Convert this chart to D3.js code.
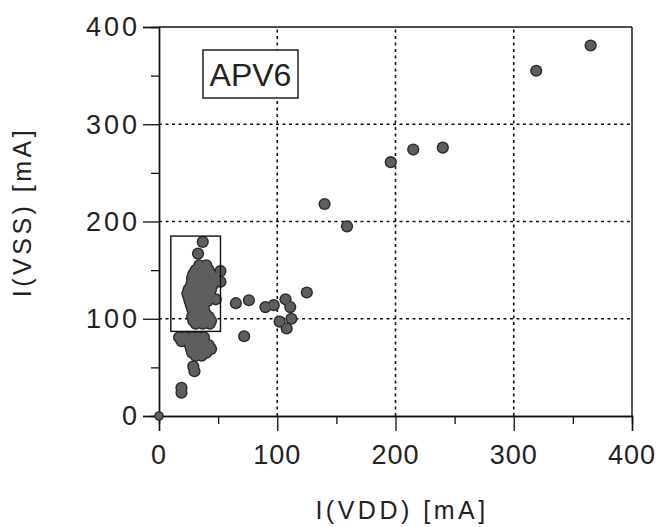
<!DOCTYPE html>
<html>
<head>
<meta charset="utf-8">
<script src="https://cdn.jsdelivr.net/npm/d3@7"></script>
<style>
  html, body { margin: 0; padding: 0; background: #fff; }
  svg { display: block; }
  text { font-family: "Liberation Sans", Arial, sans-serif; fill: #222; }
</style>
</head>
<body>
<svg id="chart" width="662" height="527"></svg>
<script>
// ---- data ----
const xTicks = [0, 100, 200, 300, 400];
const yTicks = [0, 100, 200, 300, 400];
const minorTicks = [50, 150, 250, 350];
const gridValues = [100, 200, 300];
const xLabel = "I(VDD) [mA]";
const yLabel = "I(VSS) [mA]";
const tagLabel = "APV6";
// highlighted cluster rectangle: [x0, x1, y0, y1] in mA
const clusterBox = [10, 52, 87, 185];

// I(VDD) values
const vdd = [
  0, 365, 319, 140, 159, 196, 215, 240,
  65, 76, 90, 97, 107, 111, 125, 102, 112, 108, 72,
  37, 33, 52, 52, 48,
  34, 40,
  31, 36, 42,
  29, 34, 39, 44,
  28, 33, 38, 43, 47,
  28, 32, 37, 42, 46,
  27, 31, 36, 41, 45,
  25, 30, 35, 40, 44,
  24, 29, 34, 39, 43,
  25, 30, 35, 40,
  26, 31, 36, 41,
  27, 32, 37,
  28, 33, 38,
  29, 34, 39,
  28, 33, 38, 42,
  29, 34, 39, 44,
  31, 37, 43,
  17, 22, 28, 33, 38,
  19, 25, 31, 36,
  26, 31, 37, 42,
  27, 33, 39, 44,
  28, 34, 40,
  31, 36,
  29, 30,
  19, 19
];
// I(VSS) values
const vss = [
  0, 381, 355, 218, 195, 261, 274, 276,
  116, 119, 112, 114, 120, 112, 127, 97, 100, 90, 82,
  179, 167, 149, 138, 120,
  155, 155,
  150, 150, 150,
  146, 146, 146, 146,
  142, 142, 142, 142, 142,
  138, 138, 138, 138, 138,
  134, 134, 134, 134, 134,
  130, 130, 130, 130, 130,
  126, 126, 126, 126, 126,
  122, 122, 122, 122,
  118, 118, 118, 118,
  114, 114, 114,
  110, 110, 110,
  106, 106, 106,
  102, 102, 102, 102,
  98, 98, 98, 98,
  95, 95, 95,
  81, 81, 81, 81, 81,
  77, 77, 77, 77,
  73, 73, 73, 73,
  69, 69, 69, 69,
  65, 65, 65,
  62, 62,
  51, 46,
  29, 24
];

// ---- layout ----
const svg = d3.select("#chart");
const W = 662, H = 527;
const m = { left: 159, top: 27, right: 662 - 632, bottom: 527 - 416 };
const pw = W - m.left - m.right, ph = H - m.top - m.bottom;

svg.append("rect").attr("width", W).attr("height", H).attr("fill", "#fff");

const x = d3.scaleLinear().domain([0, 400]).range([m.left, m.left + pw]);
const y = d3.scaleLinear().domain([0, 400]).range([m.top + ph, m.top]);

// grid (dotted)
const grid = svg.append("g").attr("stroke", "#111").attr("stroke-width", 1.6)
  .attr("stroke-dasharray", "3,3.5");
grid.selectAll("line.gx").data(gridValues).join("line")
  .attr("x1", d => x(d)).attr("x2", d => x(d))
  .attr("y1", y(0)).attr("y2", y(400));
grid.selectAll("line.gy").data(gridValues).join("line")
  .attr("y1", d => y(d)).attr("y2", d => y(d))
  .attr("x1", x(0)).attr("x2", x(400));

// frame (top and right borders)
svg.append("line").attr("x1", x(0)).attr("x2", x(400)).attr("y1", y(400)).attr("y2", y(400))
  .attr("stroke", "#111").attr("stroke-width", 1.4);
svg.append("line").attr("x1", x(400)).attr("x2", x(400)).attr("y1", y(0)).attr("y2", y(400))
  .attr("stroke", "#111").attr("stroke-width", 1.4);

// axes
const xAxis = svg.append("g").attr("transform", `translate(0,${y(0)})`)
  .call(d3.axisBottom(x).tickValues(xTicks).tickSize(15).tickFormat(""));
const xMinor = svg.append("g").attr("transform", `translate(0,${y(0)})`)
  .call(d3.axisBottom(x).tickValues(minorTicks).tickSize(8).tickFormat(""));
const yAxis = svg.append("g").attr("transform", `translate(${x(0)},0)`)
  .call(d3.axisLeft(y).tickValues(yTicks).tickSize(16).tickFormat(""));
const yMinor = svg.append("g").attr("transform", `translate(${x(0)},0)`)
  .call(d3.axisLeft(y).tickValues(minorTicks).tickSize(8).tickFormat(""));
[xAxis, xMinor, yAxis, yMinor].forEach(g => {
  g.select(".domain").attr("stroke", "#111").attr("stroke-width", 1.4);
  g.selectAll(".tick line").attr("stroke", "#111").attr("stroke-width", 1.3);
});

// tick labels
svg.append("g").selectAll("text").data(xTicks).join("text")
  .attr("x", d => x(d)).attr("y", 455).attr("dy", "0.35em")
  .attr("text-anchor", "middle")
  .attr("font-size", 27).style("letter-spacing", "1px")
  .text(d => d);
svg.append("g").selectAll("text").data(yTicks).join("text")
  .attr("x", 140).attr("y", d => y(d)).attr("dy", "0.35em")
  .attr("text-anchor", "end")
  .attr("font-size", 27).style("letter-spacing", "3px")
  .text(d => d);

// axis titles
svg.append("text").attr("x", 402).attr("y", 510).attr("dy", "0.35em")
  .attr("text-anchor", "middle").attr("font-size", 25).style("letter-spacing", "3.5px")
  .text(xLabel);
svg.append("text").attr("transform", `translate(22,212) rotate(-90)`).attr("dy", "0.35em")
  .attr("text-anchor", "middle").attr("font-size", 25).style("letter-spacing", "3.5px")
  .text(yLabel);

// APV6 tag
const tag = svg.append("g");
tag.append("rect").attr("x", 203).attr("y", 50).attr("width", 95).attr("height", 48)
  .attr("fill", "#fff").attr("stroke", "#111").attr("stroke-width", 1.4);
tag.append("text").attr("x", 250.5).attr("y", 85.5).attr("text-anchor", "middle")
  .attr("font-size", 32).text(tagLabel);

// points: dark outline layer, then fill layer so overlapping dots merge
const pts = vdd.map((v, i) => ({ x: v, y: vss[i] }));
const rad = d => (d.x === 0 && d.y === 0) ? 4 : 5.3;
svg.append("g").selectAll("circle").data(pts).join("circle")
  .attr("cx", d => x(d.x)).attr("cy", d => y(d.y))
  .attr("r", d => rad(d) + 0.8)
  .attr("fill", "#2a2a2a");
svg.append("g").selectAll("circle").data(pts).join("circle")
  .attr("cx", d => x(d.x)).attr("cy", d => y(d.y))
  .attr("r", d => rad(d) - 0.6)
  .attr("fill", "#5e5e5e");

// cluster box
svg.append("rect")
  .attr("x", x(clusterBox[0])).attr("y", y(clusterBox[3]))
  .attr("width", x(clusterBox[1]) - x(clusterBox[0]))
  .attr("height", y(clusterBox[2]) - y(clusterBox[3]))
  .attr("fill", "none").attr("stroke", "#111").attr("stroke-width", 1.4);
</script>
</body>
</html>
